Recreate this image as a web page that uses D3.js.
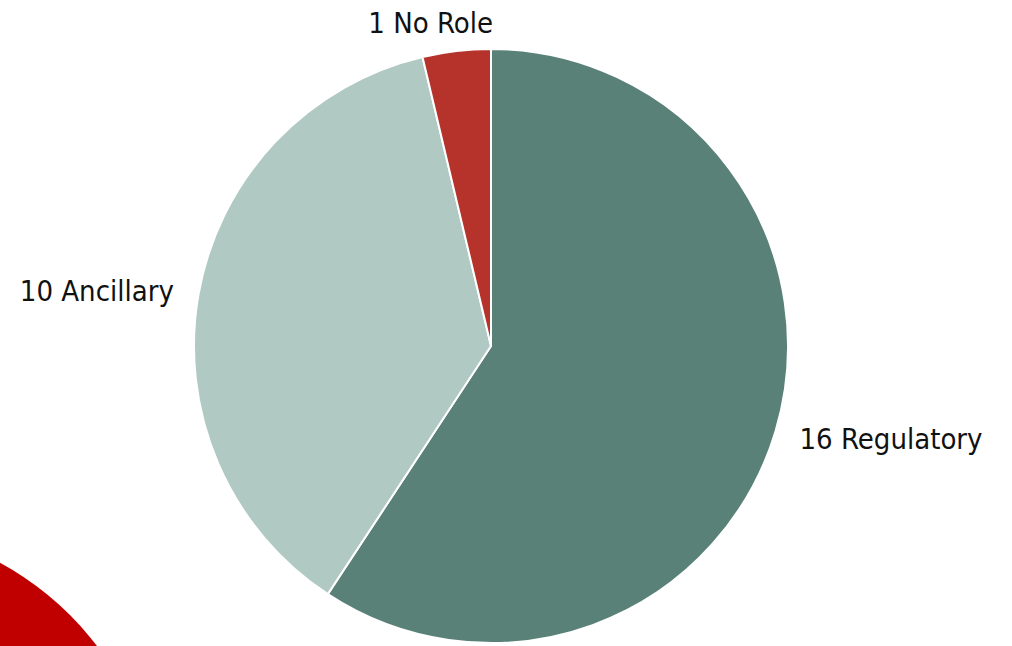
<!DOCTYPE html>
<html>
<head>
<meta charset="utf-8">
<script src="https://cdn.jsdelivr.net/npm/d3@7"></script>
<style>
  html, body { margin: 0; padding: 0; background: #ffffff; overflow: hidden; }
  svg { display: block; }
</style>
</head>
<body>
<svg id="chart" width="1012" height="646"></svg>
<script>
// Role breakdown
const categories = ["Regulatory", "Ancillary", "No Role"];
const counts = [16, 10, 1];
const colors = ["#598178", "#b1c9c3", "#b5332a"];

const svg = d3.select("#chart");

// decorative red disc in the lower-left corner
svg.append("circle")
  .attr("cx", -145)
  .attr("cy", 830)
  .attr("r", 304)
  .attr("fill", "#c00000");

const cx = 491, cy = 346, radius = 297;
const g = svg.append("g").attr("transform", `translate(${cx},${cy})`);

const data = categories.map((c, i) => ({ name: c, value: counts[i], color: colors[i] }));

const pie = d3.pie().sort(null).value(d => d.value).startAngle(0).endAngle(2 * Math.PI);
const arcs = pie(data);

const arc = d3.arc().innerRadius(0).outerRadius(radius);

g.selectAll("path.slice")
  .data(arcs)
  .join("path")
  .attr("class", "slice")
  .attr("d", arc)
  .attr("fill", d => d.data.color)
  .attr("stroke", "#ffffff")
  .attr("stroke-width", 2)
  .attr("stroke-linejoin", "round");

// labels sit just outside the rim, anchored away from the pie
const labelArc = d3.arc().innerRadius(322).outerRadius(322);
const nudge = { "No Role": [-23, -4] };

g.selectAll("text.label")
  .data(arcs)
  .join("text")
  .attr("class", "label")
  .attr("transform", d => {
    const [x, y] = labelArc.centroid(d);
    const [nx, ny] = nudge[d.data.name] || [0, 0];
    return `translate(${x + nx},${y + ny})`;
  })
  .attr("dy", "0.36em")
  .attr("text-anchor", d => {
    const mid = (d.startAngle + d.endAngle) / 2;
    const s = Math.sin(mid);
    if (Math.abs(s) < 0.3) return "middle";
    return s > 0 ? "start" : "end";
  })
  .attr("font-family", "'DejaVu Sans Condensed', 'DejaVu Sans', sans-serif")
  .attr("font-size", 29)
  .attr("fill", "#111111")
  .text(d => `${d.data.value} ${d.data.name}`);
</script>
</body>
</html>
